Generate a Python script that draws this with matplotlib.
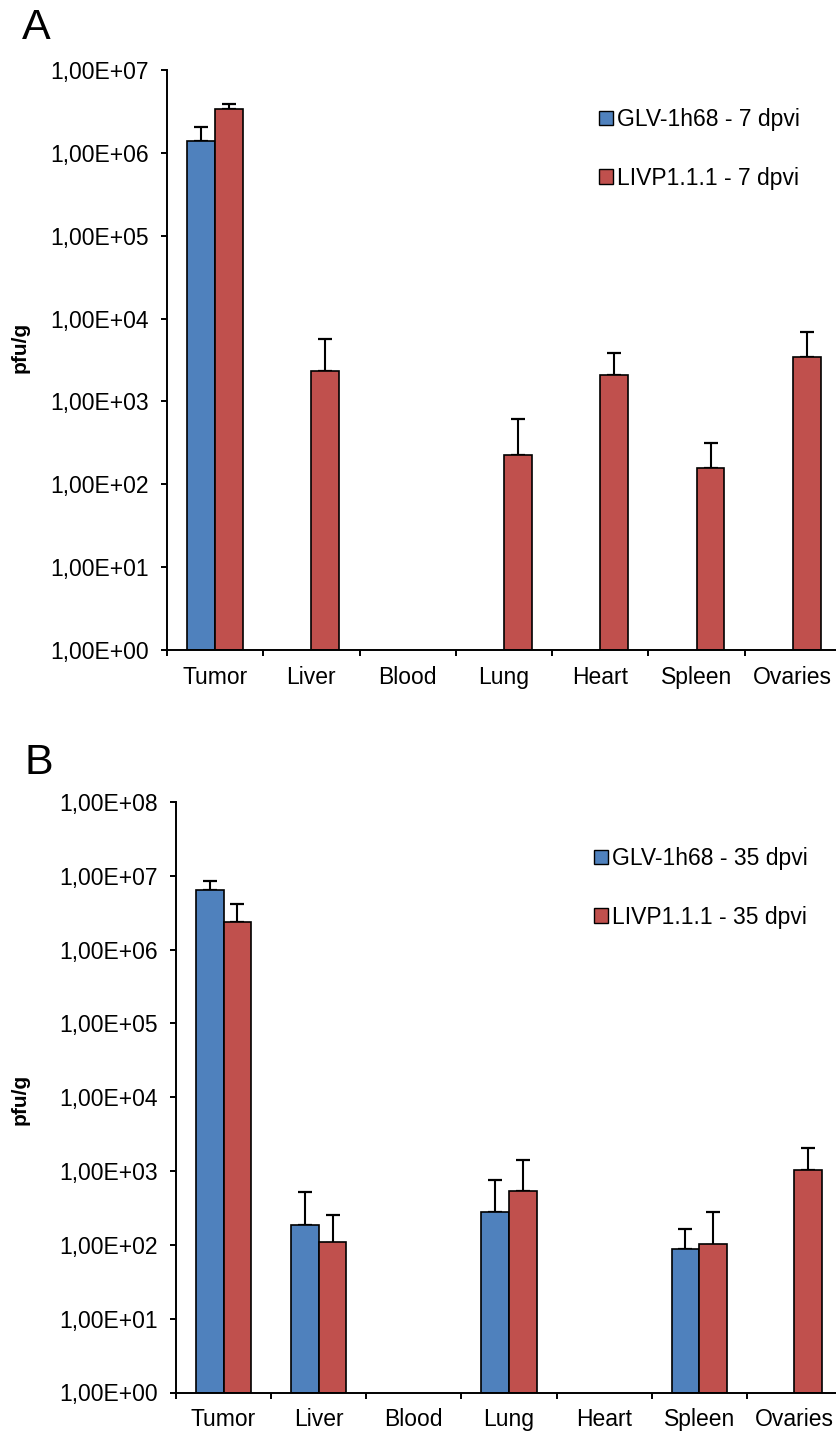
import numpy as np
import matplotlib
matplotlib.use("Agg")
import matplotlib.pyplot as plt
from matplotlib.patches import Patch
from matplotlib.ticker import FuncFormatter, FixedLocator, NullFormatter, LogLocator, NullLocator

nan = np.nan

categories = ["Tumor", "Liver", "Blood", "Lung", "Heart", "Spleen", "Ovaries"]

# Panel A (7 dpvi)
a_labels = ["GLV-1h68 - 7 dpvi", "LIVP1.1.1 - 7 dpvi"]
a_glv = [1.40e6, nan, nan, nan, nan, nan, nan]
a_glv_err = [0.65e6, nan, nan, nan, nan, nan, nan]
a_livp = [3.36e6, 2.30e3, nan, 225, 2.10e3, 157, 3.42e3]
a_livp_err = [0.53e6, 3.4e3, nan, 390, 1.7e3, 162, 3.4e3]

# Panel B (35 dpvi)
b_labels = ["GLV-1h68 - 35 dpvi", "LIVP1.1.1 - 35 dpvi"]
b_glv = [6.34e6, 186, nan, 276, nan, 87, nan]
b_glv_err = [2.1e6, 335, nan, 473, nan, 77, nan]
b_livp = [2.38e6, 107, nan, 543, nan, 101, 1045]
b_livp_err = [1.75e6, 145, nan, 854, nan, 175, 985]

BLUE = "#4F81BD"
RED = "#C0504D"
FONT = "Liberation Sans"
plt.rcParams["font.family"] = [FONT, "DejaVu Sans"]
FS = 16.5

W, H = 837, 1433
fig = plt.figure(figsize=(W / 100, H / 100), dpi=100)


def px_ax(left, right, top, bottom):
    return [left / W, 1 - bottom / H, (right - left) / W, (bottom - top) / H]


def draw_panel(ax, glv, glv_err, livp, livp_err, ymax):
    n = len(categories)
    centers = np.arange(n) + 0.5
    width = 0.29
    for vals, errs, off, col in [(glv, glv_err, -width / 2, BLUE),
                                 (livp, livp_err, width / 2, RED)]:
        vals = np.array(vals, dtype=float)
        errs = np.array(errs, dtype=float)
        m = ~np.isnan(vals)
        x = centers[m] + off
        ax.bar(x, vals[m], width=width, bottom=1, color=col, edgecolor="black",
               linewidth=1.2, zorder=2)
        e = np.nan_to_num(errs[m])
        ax.errorbar(x, vals[m], yerr=[np.zeros_like(e), e], fmt="none",
                    ecolor="black", elinewidth=1.5, capsize=4.8, capthick=1.6,
                    zorder=1)
    ax.set_yscale("log")
    ax.set_ylim(1, ymax)
    ax.set_xlim(0, n)
    ax.yaxis.set_major_locator(LogLocator(base=10, numticks=20))
    ax.yaxis.set_minor_locator(NullLocator())
    ax.yaxis.set_major_formatter(
        FuncFormatter(lambda v, p: "1,00E+%02d" % int(round(np.log10(v)))))
    ax.xaxis.set_major_locator(FixedLocator(np.arange(n + 1)))
    ax.xaxis.set_major_formatter(NullFormatter())
    ax.xaxis.set_minor_locator(FixedLocator(centers))
    ax.xaxis.set_minor_formatter(FuncFormatter(lambda v, p: categories[int(v)]))
    ax.tick_params(axis="x", which="major", length=4.5, width=1.4, direction="out")
    ax.tick_params(axis="x", which="minor", length=0, pad=11.5, labelsize=FS)
    ax.tick_params(axis="y", which="major", length=4.5, width=1.4, direction="out",
                   pad=8.5, labelsize=FS)
    for s in ["top", "right"]:
        ax.spines[s].set_visible(False)
    for s in ["left", "bottom"]:
        ax.spines[s].set_linewidth(1.4)
    ax.patch.set_alpha(0)


axA = fig.add_axes(px_ax(167, 841, 70, 650))
draw_panel(axA, a_glv, a_glv_err, a_livp, a_livp_err, 1e7)
axB = fig.add_axes(px_ax(176, 842, 802, 1392.5))
draw_panel(axB, b_glv, b_glv_err, b_livp, b_livp_err, 1e8)

for ax, labels, lx, ly in [(axA, a_labels, 599, 108), (axB, b_labels, 594, 847)]:
    handles = [Patch(facecolor=BLUE, edgecolor="black", linewidth=1.0),
               Patch(facecolor=RED, edgecolor="black", linewidth=1.0)]
    fig.legend(handles, labels, loc="upper left",
               bbox_to_anchor=(lx / W, 1 - ly / H), frameon=False,
               fontsize=FS, handlelength=0.6, handleheight=0.6,
               handletextpad=0.2, labelspacing=1.55, borderpad=0,
               borderaxespad=0)

fig.text(22 / W, 1 - 28 / H, "A", fontsize=31, ha="left", va="center")
fig.text(25 / W, 1 - 763 / H, "B", fontsize=31, ha="left", va="center")
fig.text(20 / W, 1 - 347 / H, "pfu/g", fontsize=15, fontweight="bold",
         rotation=90, ha="center", va="center")
fig.text(20 / W, 1 - 1099 / H, "pfu/g", fontsize=15, fontweight="bold",
         rotation=90, ha="center", va="center")

fig.savefig("out.png", dpi=100)
